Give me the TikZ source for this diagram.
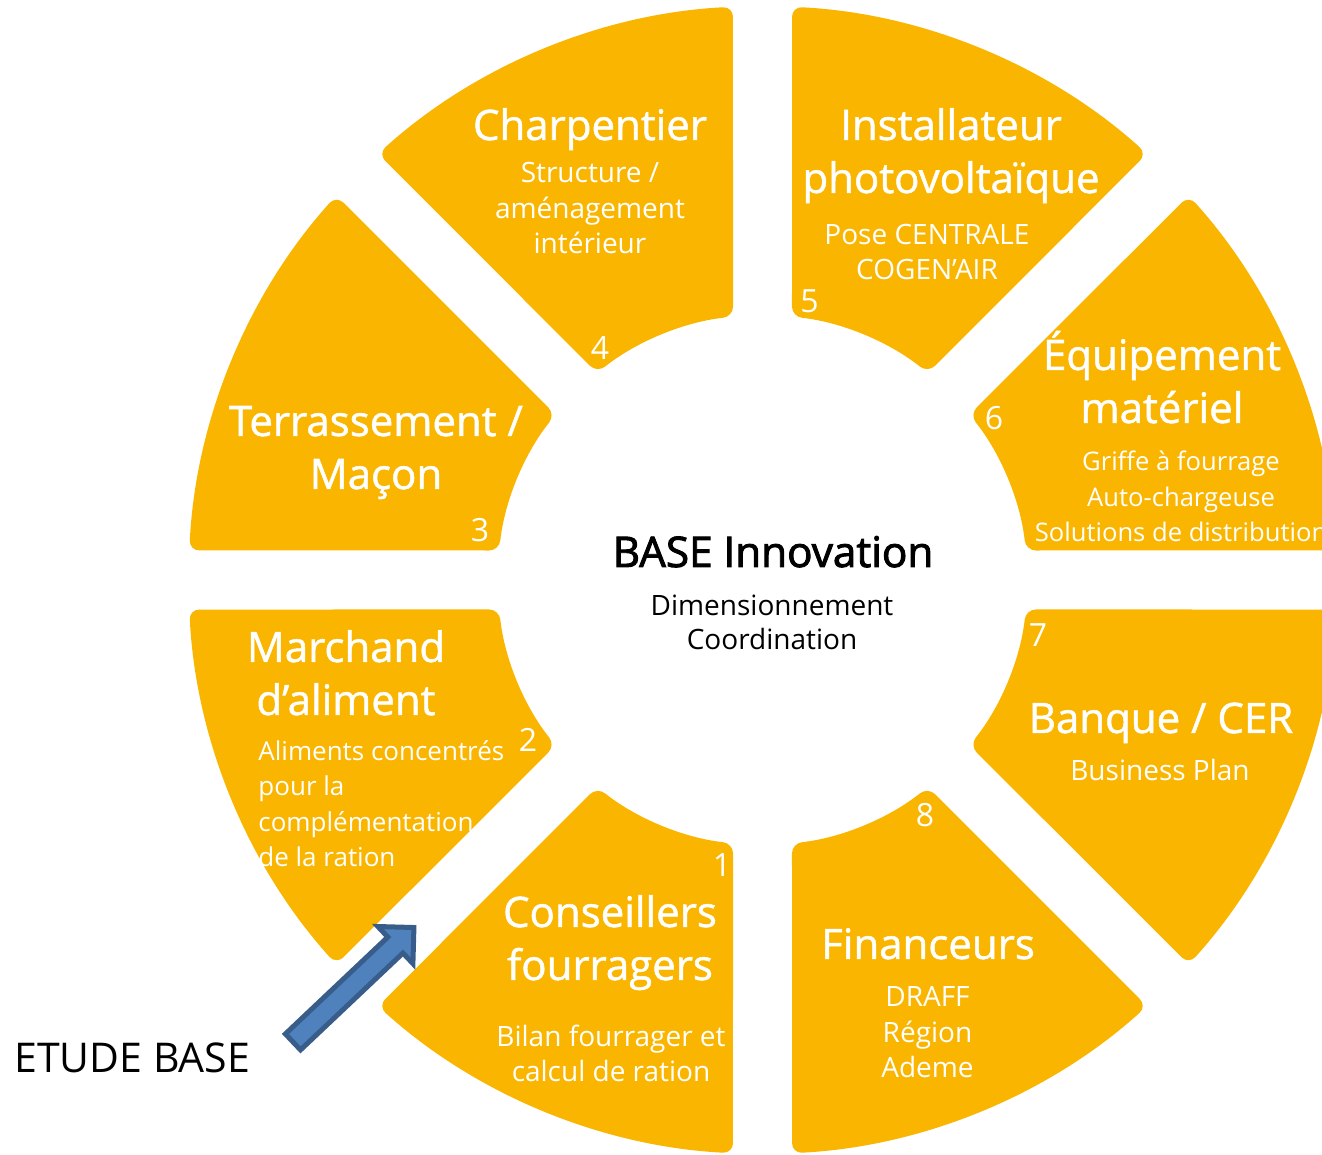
\documentclass[tikz,border=0pt]{standalone}
\usepackage{fontspec}
\setmainfont{Open Sans}
\newfontfamily\grasfont{Open Sans}[FakeBold=1.2]
\newfontfamily\grasfortfont{Open Sans}[FakeBold=2.2]
\usepackage{tikz}
\definecolor{orangeBase}{RGB}{249,181,0}
\definecolor{bleuFleche}{RGB}{79,129,189}
\definecolor{bordFleche}{RGB}{56,93,138}

\begin{document}
\begin{tikzpicture}[x=0.5pt,y=0.5pt,
    titre/.style={text=white,align=center,anchor=base,inner sep=0pt,font=\grasfont\fontsize{21}{26.5}\selectfont},
    detail/.style={text=white,align=center,anchor=base,inner sep=0pt,font=\fontsize{14}{17.75}\selectfont},
    numero/.style={text=white,anchor=base,inner sep=0pt,font=\fontsize{16}{19}\selectfont}]
    \useasboundingbox (0,0) rectangle (1322,1155);
    \coordinate (centre) at (762.5,575);
    % Les huit secteurs
    \foreach \a in {0,45,...,315} {
        \pgfmathsetmacro{\b}{\a+45}
        \fill[orangeBase,rounded corners=5pt,shift={(centre)}]
            (\a+2.95:574) arc[start angle=\a+2.95,end angle=\b-2.95,radius=574]
            -- (\b-6.39:265) arc[start angle=\b-6.39,end angle=\a+6.39,radius=265] -- cycle;
    }
    % Centre (base = derniere ligne)
    \node[anchor=base,inner sep=0pt,font=\grasfortfont\fontsize{21.1}{24}\selectfont] (base) at (773,588) {BASE Innovation};
    \node[anchor=base,inner sep=0pt,align=center,font=\fontsize{14}{17.25}\selectfont] (coord) at (772,505) {Dimensionnement\\Coordination};
    % 1
    \node[numero] (num1) at (722,278) {1};
    \node[titre] (titre1) at (610,175) {Conseillers\\fourragers};
    \node[detail] (detail1) at (611,73) {Bilan fourrager et\\calcul de ration};
    % 2
    \node[numero] (num2) at (528,403) {2};
    \node[titre] (titre2) at (346,440) {Marchand\\d’aliment};
    \node[detail,align=left,anchor=base west,font=\fontsize{13}{17.75}\selectfont] (detail2) at (258,288) {Aliments concentrés\\pour la\\complémentation\\de la ration};
    % 3
    \node[numero] (num3) at (480,613) {3};
    \node[titre] (titre3) at (376,666) {Terrassement /\\Maçon};
    % 4
    \node[numero] (num4) at (600,795) {4};
    \node[titre] (titre4) at (590,1015) {Charpentier};
    \node[detail] (detail4) at (590,901) {Structure /\\aménagement\\intérieur};
    % 5
    \node[numero] (num5) at (809.5,842) {5};
    \node[titre] (titre5) at (951,962) {Installateur\\photovoltaïque};
    \node[detail] (detail5) at (927,875) {Pose CENTRALE\\COGEN’AIR};
    % 6
    \node[numero] (num6) at (994,725) {6};
    \node[titre] (titre6) at (1162,732) {Équipement\\matériel};
    \node[detail,font=\fontsize{12.8}{17.75}\selectfont] (detail6) at (1181,613) {Griffe à fourrage\\Auto-chargeuse\\Solutions de distribution};
    % 7
    \node[numero] (num7) at (1038,508) {7};
    \node[titre] (titre7) at (1161,422) {Banque / CER};
    \node[detail] (detail7) at (1160,374) {Business Plan};
    % 8
    \node[numero] (num8) at (925,328) {8};
    \node[titre] (titre8) at (928,196) {Financeurs};
    \node[detail] (detail8) at (927.5,77) {DRAFF\\Région\\Ademe};
    % Etude et fleche
    \node[anchor=base west,inner sep=0pt,font=\fontsize{20.5}{24}\selectfont] (etude) at (14,82) {ETUDE BASE};
    \coordinate (queue) at (291.5,111.7);
    \begin{scope}[shift={(queue)},rotate=43.4]
        \filldraw[fill=bleuFleche,draw=bordFleche,line width=2.5pt,line join=miter]
            (2,-11) -- (143,-11) -- (143,-25.5) -- (168.5,0) -- (143,25.5) -- (143,11) -- (2,11) -- cycle;
    \end{scope}
\end{tikzpicture}
\end{document}
